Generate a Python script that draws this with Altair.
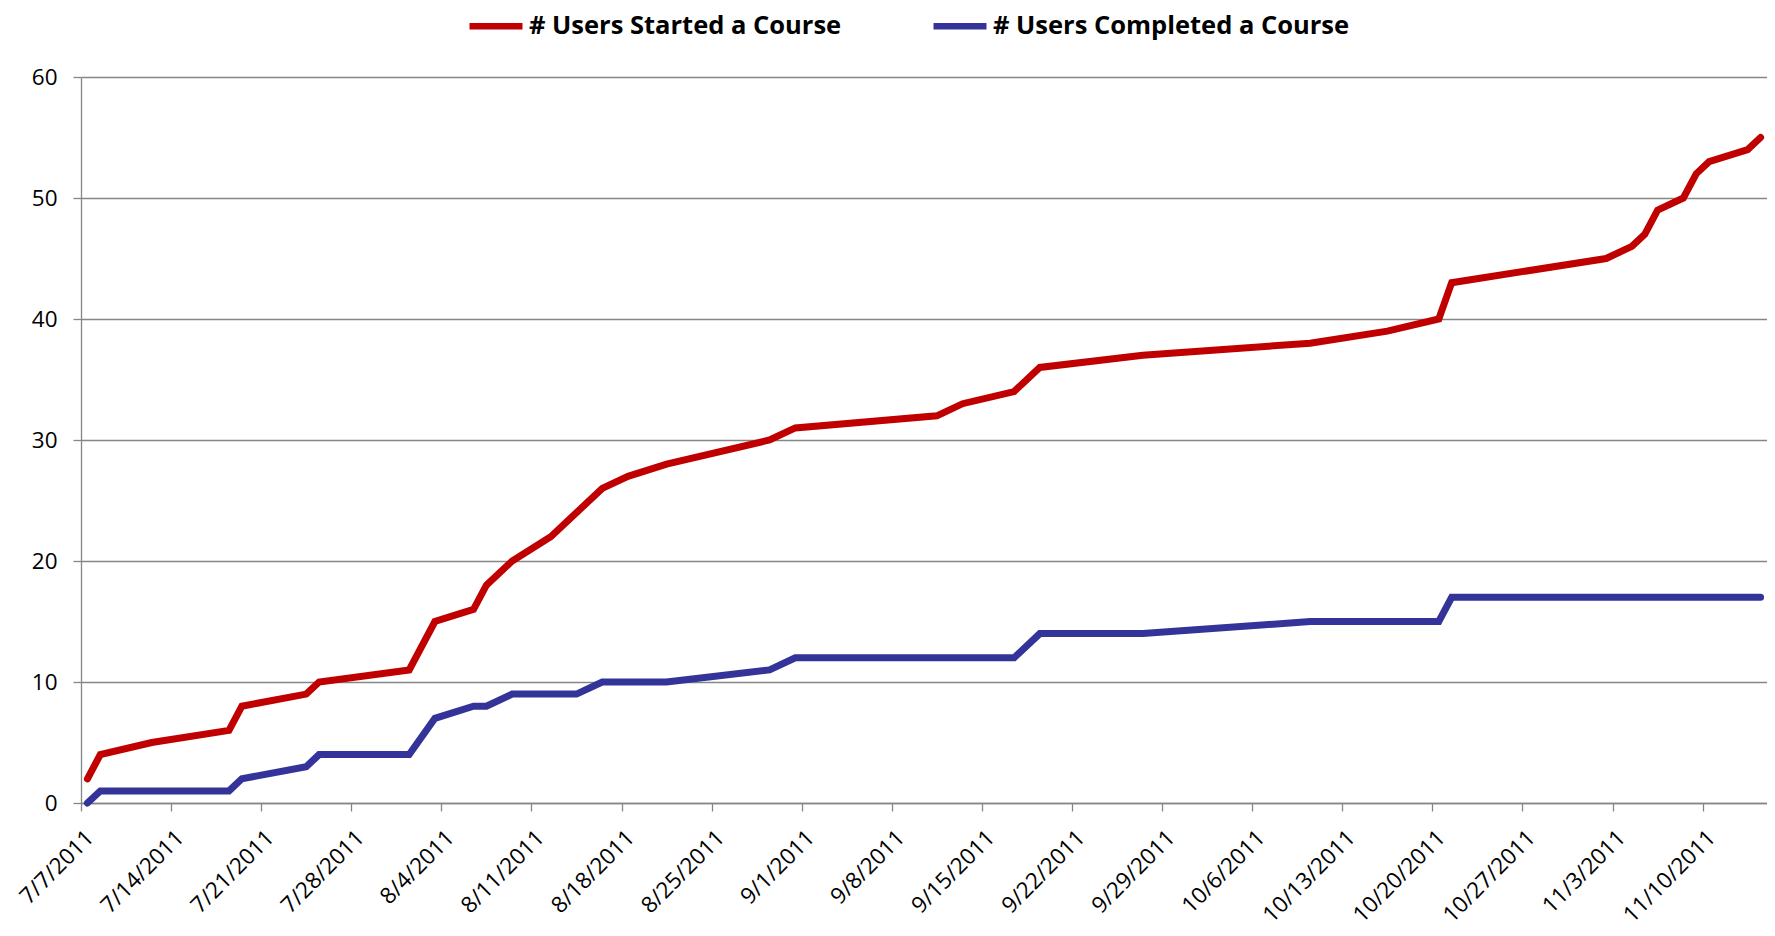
import altair as alt
import pandas as pd

started_name = "# Users Started a Course"
completed_name = "# Users Completed a Course"

started_dates = [
    "2011-07-07", "2011-07-08", "2011-07-12", "2011-07-18", "2011-07-19",
    "2011-07-24", "2011-07-25", "2011-08-01", "2011-08-03", "2011-08-06",
    "2011-08-07", "2011-08-09", "2011-08-12", "2011-08-16", "2011-08-18",
    "2011-08-21", "2011-08-29", "2011-08-31", "2011-09-11", "2011-09-13",
    "2011-09-17", "2011-09-19", "2011-09-27", "2011-10-10", "2011-10-16",
    "2011-10-20", "2011-10-21", "2011-11-02", "2011-11-04", "2011-11-05",
    "2011-11-06", "2011-11-08", "2011-11-09", "2011-11-10", "2011-11-13",
    "2011-11-14",
]
started_values = [
    2, 4, 5, 6, 8,
    9, 10, 11, 15, 16,
    18, 20, 22, 26, 27,
    28, 30, 31, 32, 33,
    34, 36, 37, 38, 39,
    40, 43, 45, 46, 47,
    49, 50, 52, 53, 54,
    55,
]

completed_dates = [
    "2011-07-07", "2011-07-08", "2011-07-18", "2011-07-19", "2011-07-24",
    "2011-07-25", "2011-08-01", "2011-08-03", "2011-08-06", "2011-08-07",
    "2011-08-09", "2011-08-14", "2011-08-16", "2011-08-21", "2011-08-29",
    "2011-08-31", "2011-09-17", "2011-09-19", "2011-09-27", "2011-10-10",
    "2011-10-20", "2011-10-21", "2011-11-14",
]
completed_values = [
    0, 1, 1, 2, 3,
    4, 4, 7, 8, 8,
    9, 9, 10, 10, 11,
    12, 12, 14, 14, 15,
    15, 17, 17,
]

tick_dates = [
    "2011-07-07", "2011-07-14", "2011-07-21", "2011-07-28", "2011-08-04",
    "2011-08-11", "2011-08-18", "2011-08-25", "2011-09-01", "2011-09-08",
    "2011-09-15", "2011-09-22", "2011-09-29", "2011-10-06", "2011-10-13",
    "2011-10-20", "2011-10-27", "2011-11-03", "2011-11-10",
]
axis_start = "2011-07-07"
axis_end = "2011-11-15"
y_ticks = [0, 10, 20, 30, 40, 50, 60]


def ms(d):
    return int(pd.Timestamp(d, tz="UTC").timestamp() * 1000)


df = pd.concat([
    pd.DataFrame({"date": started_dates, "value": started_values, "series": started_name}),
    pd.DataFrame({"date": completed_dates, "value": completed_values, "series": completed_name}),
], ignore_index=True)

FONT = "Open Sans"
GRID = "#868686"

chart = alt.Chart(df).transform_calculate(
    t="time(toDate(datum.date)) + 43200000"
).mark_line(strokeWidth=7, strokeCap="round", strokeJoin="miter").encode(
    x=alt.X(
        "t:T",
        scale=alt.Scale(type="utc", domain=[ms(axis_start), ms(axis_end)], nice=False),
        axis=alt.Axis(
            values=[ms(d) for d in tick_dates],
            labelExpr="utcFormat(datum.value, '%-m/%-d/%Y')",
            title=None,
            grid=False,
            labelAngle=-45,
            labelAlign="right",
            labelBaseline="top",
            labelFont=FONT,
            labelFontSize=22.5,
            labelColor="#000000",
            labelPadding=15,
            labelOffset=1,
            labelOverlap=False,
            labelFlush=False,
            labelBound=False,
            tickSize=8,
            tickColor=GRID,
            tickWidth=1.3,
            domainColor=GRID,
            domainWidth=1.3,
        ),
    ),
    y=alt.Y(
        "value:Q",
        scale=alt.Scale(domain=[0, 60], nice=False),
        axis=alt.Axis(
            values=y_ticks,
            title=None,
            grid=True,
            gridColor=GRID,
            gridWidth=1.3,
            labelFont=FONT,
            labelFontSize=22.5,
            labelColor="#000000",
            labelPadding=16,
            tickSize=8,
            tickColor=GRID,
            tickWidth=1.3,
            domainColor=GRID,
            domainWidth=1.3,
        ),
    ),
    color=alt.Color(
        "series:N",
        scale=alt.Scale(domain=[started_name, completed_name], range=["#C00000", "#333399"]),
        legend=alt.Legend(
            title=None,
            orient="none",
            direction="horizontal",
            legendX=385,
            legendY=-81,
            symbolType="stroke",
            symbolSize=2809,
            symbolStrokeWidth=6.5,
            labelFont=FONT,
            labelFontSize=25.5,
            labelFontWeight="bold",
            labelColor="#000000",
            labelOffset=3,
            columnPadding=78,
            padding=0,
            labelLimit=0,
        ),
    ),
).properties(
    width=1686,
    height=726,
    autosize=alt.AutoSizeParams(type="none"),
    padding={"left": 73, "top": 69, "right": 0, "bottom": 125},
).configure_view(stroke=None)

chart.save("out.html", embed_options={"renderer": "svg", "actions": False})
